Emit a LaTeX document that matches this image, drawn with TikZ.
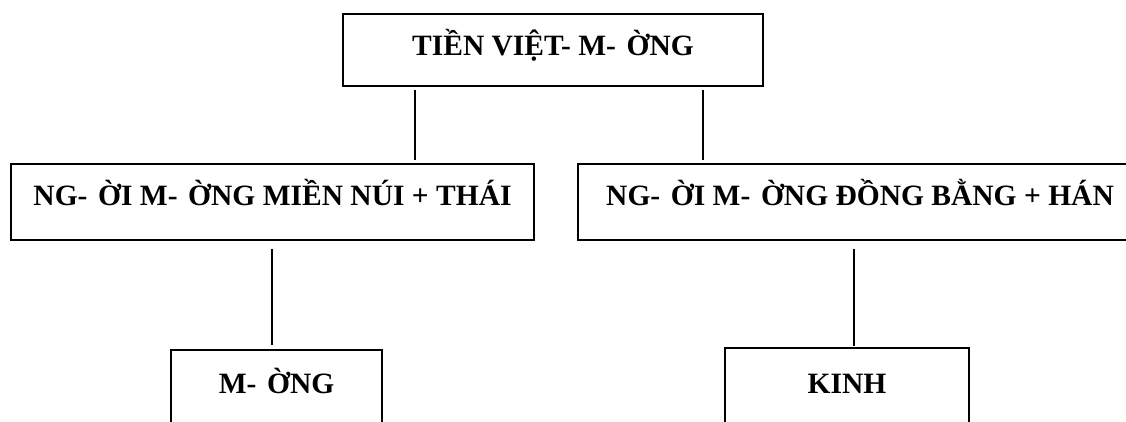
\documentclass[tikz,border=0pt]{standalone}
\usepackage{fontspec}
\setmainfont{Liberation Serif}
\newcommand{\gapsp}{\hspace{0.36em}}
\begin{document}
\begin{tikzpicture}[x=1pt,y=-1pt,
  box/.style={draw, line width=1.5pt, inner xsep=0pt, inner ysep=0pt,
    font=\fontsize{29.5}{32}\selectfont\bfseries, anchor=north},
  conn/.style={line width=1.5pt}]
\useasboundingbox (0,0) rectangle (1126,421);
\clip (0,0) rectangle (1126,421);
\node[box, minimum width=420pt, text height=42pt, text depth=30pt] (top) at (553,13) {TIỀN VIỆT- M-\gapsp ỜNG};
\node[box, minimum width=523pt, text height=42pt, text depth=34pt] (midL) at (272.5,163) {NG-\gapsp ỜI M-\gapsp ỜNG MIỀN NÚI + THÁI};
\node[box, minimum width=564pt, text height=42pt, text depth=34pt] (midR) at (860,163) {NG-\gapsp ỜI M-\gapsp ỜNG ĐỒNG BẰNG + HÁN};
\node[box, minimum width=211pt, text height=44pt, text depth=40pt] (botL) at (276.5,349) {M-\gapsp ỜNG};
\node[box, minimum width=244pt, text height=46pt, text depth=40pt] (botR) at (847,347) {KINH};
\coordinate (xa) at (415,0);
\coordinate (xb) at (703,0);
\coordinate (xc) at (272,0);
\coordinate (xd) at (854,0);
\draw[conn, shorten <=3pt, shorten >=3pt] (top.south -| xa) -- (midL.north -| xa);
\draw[conn, shorten <=3pt, shorten >=3pt] (top.south -| xb) -- (midR.north -| xb);
\draw[conn, shorten <=8pt, shorten >=4pt] (midL.south -| xc) -- (botL.north -| xc);
\draw[conn, shorten <=8pt, shorten >=1pt] (midR.south -| xd) -- (botR.north -| xd);
\end{tikzpicture}
\end{document}
